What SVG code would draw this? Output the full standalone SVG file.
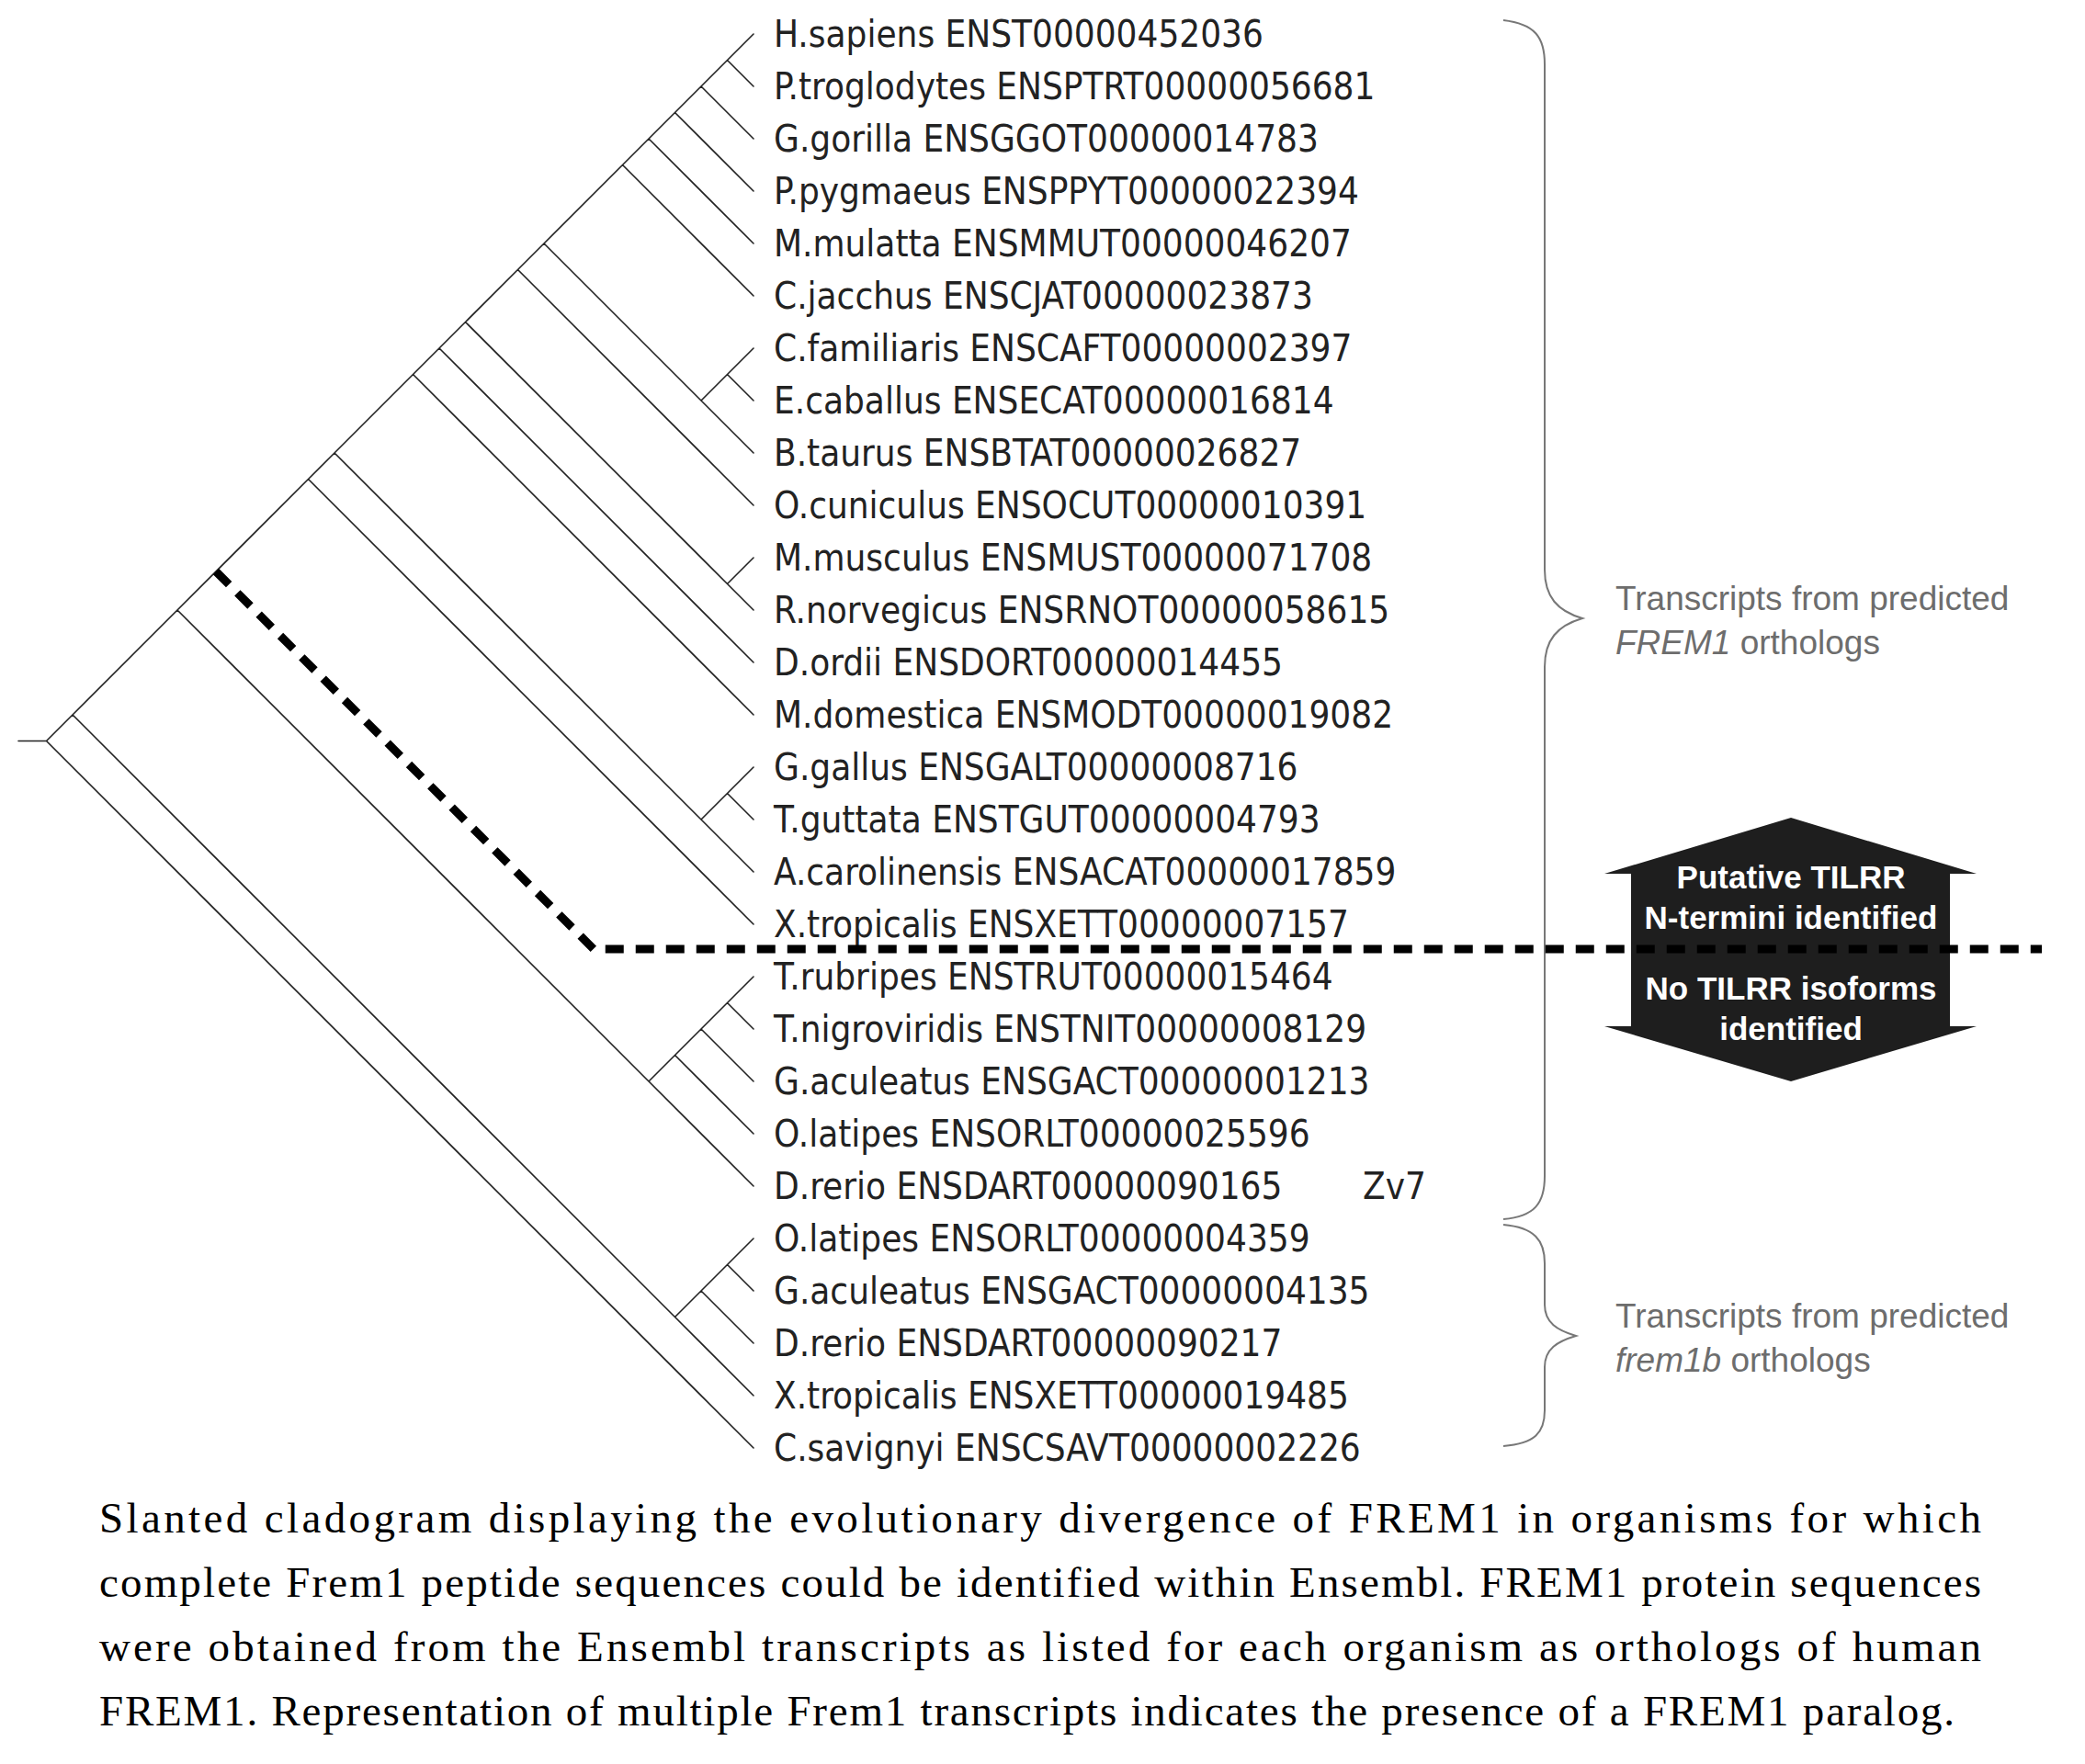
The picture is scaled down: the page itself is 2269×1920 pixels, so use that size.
<svg xmlns="http://www.w3.org/2000/svg" width="2269" height="1920" viewBox="0 0 2269 1920">
<style>
.e{stroke:#222;stroke-width:1.6;fill:none;stroke-linecap:round}
.lf{font-family:"DejaVu Sans Condensed","DejaVu Sans",sans-serif;font-size:40px;fill:#222}
.g{font-family:"Liberation Sans",Arial,sans-serif;font-size:37px;fill:#6d6d6d}
.w{font-family:"Liberation Sans",Arial,sans-serif;font-size:35px;font-weight:bold;fill:#fff;text-anchor:middle}
.c{font-family:"Liberation Serif","Times New Roman",serif;font-size:47px;fill:#000}
.br{stroke:#777;stroke-width:2;fill:none}
</style>
<rect width="2269" height="1920" fill="#fff"/>
<g id="connectors">
<path class="e" d="M20 806.5H50.5 M50.5 806.5L79 778 M50.5 806.5L820 1576 M79 778L193 664 M79 778L734.5 1433.5 M193 664L335.5 521.5 M193 664L706 1177 M335.5 521.5L364 493 M335.5 521.5L820 1006 M364 493L449.5 407.5 M364 493L763 892 M449.5 407.5L478 379 M449.5 407.5L820 778 M478 379L506.5 350.5 M478 379L820 721 M506.5 350.5L563.5 293.5 M506.5 350.5L791.5 635.5 M563.5 293.5L592 265 M563.5 293.5L820 550 M592 265L677.5 179.5 M592 265L763 436 M677.5 179.5L706 151 M677.5 179.5L820 322 M706 151L734.5 122.5 M706 151L820 265 M734.5 122.5L763 94 M734.5 122.5L820 208 M763 94L791.5 65.5 M763 94L820 151 M791.5 65.5L820 37 M791.5 65.5L820 94 M763 436L791.5 407.5 M763 436L820 493 M791.5 407.5L820 379 M791.5 407.5L820 436 M791.5 635.5L820 607 M791.5 635.5L820 664 M763 892L791.5 863.5 M763 892L820 949 M791.5 863.5L820 835 M791.5 863.5L820 892 M706 1177L734.5 1148.5 M706 1177L820 1291 M734.5 1148.5L763 1120 M734.5 1148.5L820 1234 M763 1120L791.5 1091.5 M763 1120L820 1177 M791.5 1091.5L820 1063 M791.5 1091.5L820 1120 M734.5 1433.5L763 1405 M734.5 1433.5L820 1519 M763 1405L791.5 1376.5 M763 1405L820 1462 M791.5 1376.5L820 1348 M791.5 1376.5L820 1405"/>
</g>
<g id="leaves" class="lf">
<text x="842" y="51">H.sapiens ENST00000452036</text>
<text x="842" y="108">P.troglodytes ENSPTRT00000056681</text>
<text x="842" y="165">G.gorilla ENSGGOT00000014783</text>
<text x="842" y="222">P.pygmaeus ENSPPYT00000022394</text>
<text x="842" y="279">M.mulatta ENSMMUT00000046207</text>
<text x="842" y="336">C.jacchus ENSCJAT00000023873</text>
<text x="842" y="393">C.familiaris ENSCAFT00000002397</text>
<text x="842" y="450">E.caballus ENSECAT00000016814</text>
<text x="842" y="507">B.taurus ENSBTAT00000026827</text>
<text x="842" y="564">O.cuniculus ENSOCUT00000010391</text>
<text x="842" y="621">M.musculus ENSMUST00000071708</text>
<text x="842" y="678">R.norvegicus ENSRNOT00000058615</text>
<text x="842" y="735">D.ordii ENSDORT00000014455</text>
<text x="842" y="792">M.domestica ENSMODT00000019082</text>
<text x="842" y="849">G.gallus ENSGALT00000008716</text>
<text x="842" y="906">T.guttata ENSTGUT00000004793</text>
<text x="842" y="963">A.carolinensis ENSACAT00000017859</text>
<text x="842" y="1020">X.tropicalis ENSXETT00000007157</text>
<text x="842" y="1077">T.rubripes ENSTRUT00000015464</text>
<text x="842" y="1134">T.nigroviridis ENSTNIT00000008129</text>
<text x="842" y="1191">G.aculeatus ENSGACT00000001213</text>
<text x="842" y="1248">O.latipes ENSORLT00000025596</text>
<text x="842" y="1305">D.rerio ENSDART00000090165<tspan x="1483">Zv7</tspan></text>
<text x="842" y="1362">O.latipes ENSORLT00000004359</text>
<text x="842" y="1419">G.aculeatus ENSGACT00000004135</text>
<text x="842" y="1476">D.rerio ENSDART00000090217</text>
<text x="842" y="1533">X.tropicalis ENSXETT00000019485</text>
<text x="842" y="1590">C.savignyi ENSCSAVT00000002226</text>
</g>
<g id="braces">
<path class="br" d="M1636 22C1670 26 1681 40 1681 70V620C1681 650 1695 665 1722 673C1695 681 1681 696 1681 726V1280C1681 1310 1670 1324 1636 1327"/>
<path class="br" d="M1636 1333C1670 1336 1681 1350 1681 1375V1420C1681 1440 1695 1448 1715 1454C1695 1460 1681 1468 1681 1488V1535C1681 1560 1670 1571 1636 1574"/>
</g>
<g id="labels">
<text class="g" x="1758" y="664">Transcripts from predicted</text>
<text class="g" x="1758" y="712"><tspan font-style="italic">FREM1</tspan> orthologs</text>
<text class="g" x="1758" y="1445">Transcripts from predicted</text>
<text class="g" x="1758" y="1493"><tspan font-style="italic">frem1b</tspan> orthologs</text>
</g>
<g id="arrow">
<path d="M1949 890L2151 951H2122V1117H2151L1949 1177L1746 1117H1775V951H1746Z" fill="#1e1e1e"/>
<text class="w" x="1949" y="967">Putative TILRR</text>
<text class="w" x="1949" y="1011">N-termini identified</text>
<text class="w" x="1949" y="1088">No TILRR isoforms</text>
<text class="w" x="1949" y="1132">identified</text>
</g>
<g id="divider">
<path d="M235 622L646 1033H2222" stroke="#000" stroke-width="9" fill="none" stroke-dasharray="20 13"/>
</g>
<g id="caption" class="c">
<text x="108" y="1668" textLength="2048" lengthAdjust="spacing">Slanted cladogram displaying the evolutionary divergence of FREM1 in organisms for which</text>
<text x="108" y="1738" textLength="2048" lengthAdjust="spacing">complete Frem1 peptide sequences could be identified within Ensembl. FREM1 protein sequences</text>
<text x="108" y="1808" textLength="2048" lengthAdjust="spacing">were obtained from the Ensembl transcripts as listed for each organism as orthologs of human</text>
<text x="108" y="1878" textLength="2019" lengthAdjust="spacing">FREM1. Representation of multiple Frem1 transcripts indicates the presence of a FREM1 paralog.</text>
</g>
</svg>
